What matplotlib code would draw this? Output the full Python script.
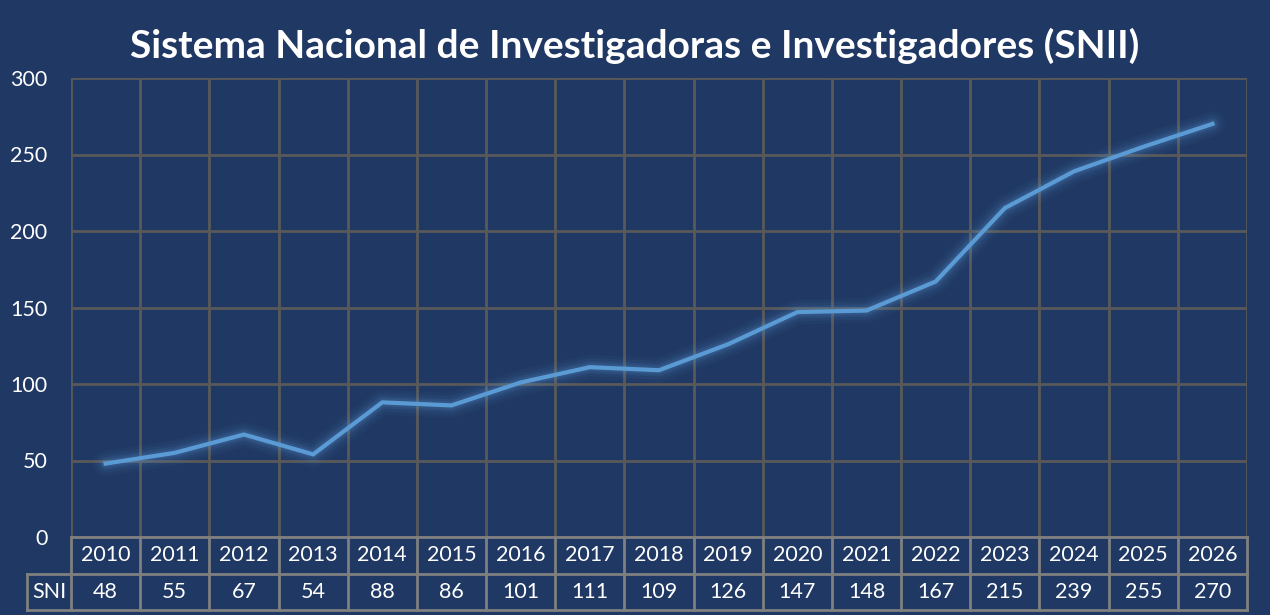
import matplotlib.pyplot as plt
from matplotlib.transforms import blended_transform_factory

years = ['2010', '2011', '2012', '2013', '2014', '2015', '2016', '2017', '2018',
         '2019', '2020', '2021', '2022', '2023', '2024', '2025', '2026']
sni = [48, 55, 67, 54, 88, 86, 101, 111, 109, 126, 147, 148, 167, 215, 239, 255, 270]
series_name = 'SNI'
title = 'Sistema Nacional de Investigadoras e Investigadores (SNII)'

bg = '#203864'
grid_c = '#595959'
table_c = '#7f7f7f'
line_c = '#5b9bd5'
plt.rcParams['font.family'] = ['Lato', 'DejaVu Sans']

W, H = 1270, 615
fig = plt.figure(figsize=(W / 100, H / 100), dpi=100, facecolor=bg)
ax = fig.add_axes([71 / W, (H - 537) / H, 1176 / W, 459 / H], facecolor=bg)

n = len(years)
xs = [i + 0.5 for i in range(n)]
ax.set_xlim(0, n)
ax.set_ylim(0, 300)
ax.set_yticks(range(0, 301, 50))
ax.set_xticks(range(n + 1))
ax.grid(True, color=grid_c, lw=2)
ax.tick_params(length=0, labelbottom=False, colors='white', labelsize=15.5, pad=17)
for s in ax.spines.values():
    s.set_visible(False)
ax.set_axisbelow(True)

# glow
for lw, a in [(18, 0.05), (13, 0.07), (9, 0.1), (6, 0.13)]:
    ax.plot(xs, sni, color=line_c, lw=lw, alpha=a, solid_capstyle='round',
            solid_joinstyle='round')
ax.plot(xs, sni, color=line_c, lw=3, solid_joinstyle='round')

# data table below the plot
tr = blended_transform_factory(ax.transData, ax.transAxes)
row_h = 36.5 / 459
y0, y1, y2 = 0, -row_h, -2 * row_h
lbl_left = -(71 - 27) / 1176 * n
for y in (y0, y1, y2):
    x_start = 0 if y == y0 else lbl_left
    ax.plot([x_start, n], [y, y], color=table_c, lw=2, transform=tr, clip_on=False)
for i in range(n + 1):
    ax.plot([i, i], [y0, y2], color=table_c, lw=2, transform=tr, clip_on=False)
ax.plot([lbl_left, lbl_left], [y1, y2], color=table_c, lw=2, transform=tr, clip_on=False)
for x, yr, v in zip(xs, years, sni):
    ax.text(x, (y0 + y1) / 2, yr, color='white', fontsize=15.5, ha='center', va='center',
            transform=tr)
    ax.text(x, (y1 + y2) / 2, str(v), color='white', fontsize=15.5, ha='center', va='center',
            transform=tr)
ax.text(lbl_left / 2, (y1 + y2) / 2, series_name, color='white', fontsize=15.5,
        ha='center', va='center', transform=tr)

fig.text(635 / W, 1 - 46 / H, title, color='white', fontsize=28, fontweight='bold',
         ha='center', va='center')

fig.savefig('out.png', dpi=100, facecolor=bg)
